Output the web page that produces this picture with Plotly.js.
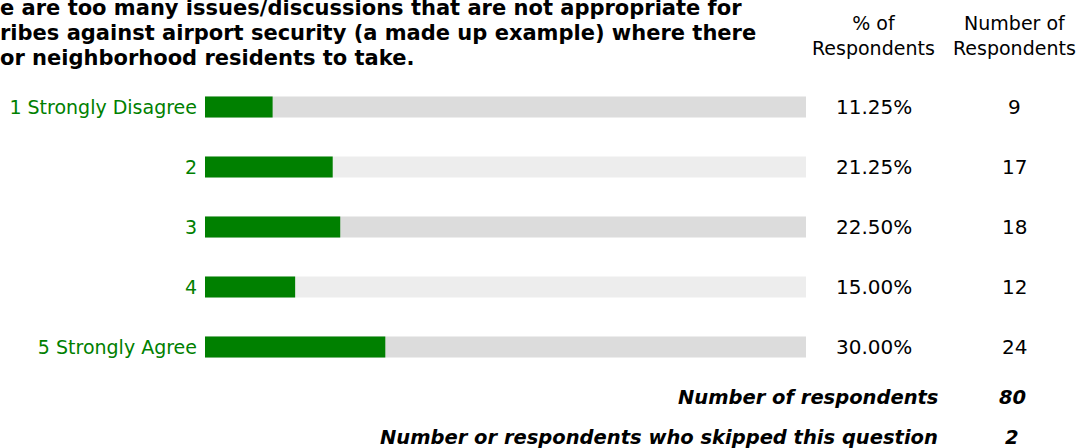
<!DOCTYPE html>
<html>
<head>
<meta charset="utf-8">
<script src="https://cdn.plot.ly/plotly-3.0.1.min.js"></script>
<style>html,body{margin:0;padding:0;background:#fff;}#chart{width:1081px;height:448px;}</style>
</head>
<body>
<div id="chart"></div>
<script>
const categories = ["1 Strongly Disagree", "2", "3", "4", "5 Strongly Agree"];
const percents = [11.25, 21.25, 22.50, 15.00, 30.00];
const counts = [9, 17, 18, 12, 24];
const percentLabels = ["11.25%", "21.25%", "22.50%", "15.00%", "30.00%"];
const titleLines = [
  "e are too many issues/discussions that are not appropriate for",
  "ribes against airport security (a made up example) where there",
  "or neighborhood residents to take."
];
const totalRespondents = 80;
const skipped = 2;
const fullScale = [100, 100, 100, 100, 100];
const trackColors = ["#dcdcdc", "#ededed", "#dcdcdc", "#ededed", "#dcdcdc"];

const W = 1081, H = 448;
const FONT = "DejaVu Sans, Verdana, sans-serif";

const traces = [
  {type: "bar", orientation: "h", y: categories, x: fullScale,
   marker: {color: trackColors}, width: 0.35, hoverinfo: "skip", showlegend: false},
  {type: "bar", orientation: "h", y: categories, x: percents,
   marker: {color: "#008000"}, width: 0.35, showlegend: false}
];

const ann = [];
titleLines.forEach((t, i) => {
  ann.push({xref: "paper", yref: "paper", x: -2 / W, y: 1 - (8 + i * 25) / H,
    xanchor: "left", yanchor: "middle", showarrow: false, text: "<b>" + t + "</b>",
    font: {family: FONT, size: 21, color: "#000"}});
});
const colPct = 874 / W, colCnt = 1014 / W;
ann.push({xref: "paper", yref: "paper", x: colPct, y: 1 - 35 / H, xanchor: "center", yanchor: "middle",
  showarrow: false, text: "% of<br>Respondents", font: {family: FONT, size: 19, color: "#000"}});
ann.push({xref: "paper", yref: "paper", x: colCnt, y: 1 - 35 / H, xanchor: "center", yanchor: "middle",
  showarrow: false, text: "Number of<br>Respondents", font: {family: FONT, size: 19, color: "#000"}});
categories.forEach((c, i) => {
  ann.push({xref: "paper", yref: "y", x: colPct, y: i, xanchor: "center", yanchor: "middle",
    showarrow: false, text: percentLabels[i], font: {family: FONT, size: 20, color: "#000"}});
  ann.push({xref: "paper", yref: "y", x: colCnt, y: i, xanchor: "center", yanchor: "middle",
    showarrow: false, text: String(counts[i]), font: {family: FONT, size: 20, color: "#000"}});
});
const BI = {family: FONT, size: 19.5, color: "#000"};
ann.push({xref: "paper", yref: "paper", x: 940 / W, y: 1 - 397 / H, xanchor: "right", yanchor: "middle",
  showarrow: false, text: "<b><i>Number of respondents</i></b>", font: BI});
ann.push({xref: "paper", yref: "paper", x: 1012 / W, y: 1 - 397 / H, xanchor: "center", yanchor: "middle",
  showarrow: false, text: "<b><i>" + totalRespondents + "</i></b>", font: BI});
ann.push({xref: "paper", yref: "paper", x: 940 / W, y: 1 - 437 / H, xanchor: "right", yanchor: "middle",
  showarrow: false, text: "<b><i>Number or respondents who skipped this question</i></b>", font: BI});
ann.push({xref: "paper", yref: "paper", x: 1012 / W, y: 1 - 437 / H, xanchor: "center", yanchor: "middle",
  showarrow: false, text: "<b><i>" + skipped + "</i></b>", font: BI});

const layout = {
  width: W, height: H,
  margin: {l: 0, r: 0, t: 0, b: 0},
  paper_bgcolor: "#fff", plot_bgcolor: "#fff",
  barmode: "overlay",
  showlegend: false,
  xaxis: {domain: [205 / W, 806 / W], range: [0, 100], visible: false, fixedrange: true},
  yaxis: {domain: [71 / H, 371 / H], type: "category", autorange: false, range: [4.5, -0.5],
    showgrid: false, zeroline: false, showline: false, ticks: "", ticklabelstandoff: 7,
    tickfont: {family: FONT, size: 19, color: "#008000"}, automargin: false, fixedrange: true},
  annotations: ann
};

Plotly.newPlot("chart", traces, layout, {displayModeBar: false, staticPlot: true});
</script>
</body>
</html>
